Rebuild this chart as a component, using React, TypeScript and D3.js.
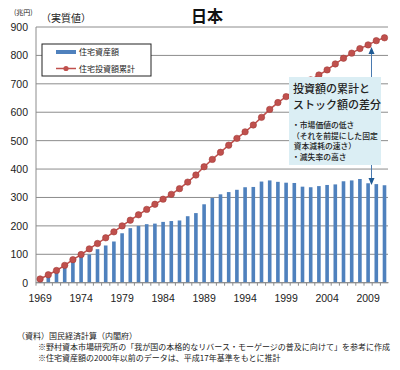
import { useMemo } from 'react'
import { scaleBand, scaleLinear, line } from 'd3'

const YEARS = Array.from({ length: 43 }, (_, i) => 1969 + i)

// 住宅資産額 (兆円)
const STOCK = [
  10, 21, 35, 56, 74, 91, 99, 118, 131, 145, 174, 192, 200, 206, 208, 214, 217, 219, 234, 245,
  276, 298, 311, 319, 327, 336, 337, 356, 360, 355, 352, 351, 338, 336, 340, 344, 346, 357, 360,
  365, 350, 347, 343,
]

// 住宅投資額累計 (兆円)
const CUMULATIVE = [
  13, 28, 43, 61, 81, 99, 119, 138, 158, 179, 200, 220, 239, 258, 276, 294, 311, 331, 354, 379,
  408, 434, 459, 484, 508, 531, 555, 582, 610, 634, 655, 676, 697, 714, 731, 749, 770, 790, 808,
  824, 837, 852, 862,
]

const Y_TICKS = [0, 100, 200, 300, 400, 500, 600, 700, 800, 900]
const X_LABELS = [1969, 1974, 1979, 1984, 1989, 1994, 1999, 2004, 2009]

const NOTE_HEAD = ['投資額の累計と', 'ストック額の差分']
const NOTE_LINES = ['・市場価値の低さ', '（それを前提にした固定', ' 資本減耗の速さ）', '・滅失率の高さ']
const FOOTNOTES = [
  '（資料）国民経済計算（内閣府）',
  '※野村資本市場研究所の「我が国の本格的なリバース・モーゲージの普及に向けて」を参考に作成',
  '※住宅資産額の2000年以前のデータは、平成17年基準をもとに推計',
]

const JP = '"Noto Sans CJK JP", sans-serif'
const NUM = '"Liberation Sans", Arial, sans-serif'
const BLUE = '#4f81bd'
const RED = '#c0504d'

export default function App() {
  const x = useMemo(
    () => scaleBand<number>().domain(YEARS).range([36, 388.6]).paddingInner(0.56).paddingOuter(0.28),
    []
  )
  const y = useMemo(() => scaleLinear().domain([0, 900]).range([282.7, 27]), [])
  const step = x.step()
  const cx = (yr: number) => (x(yr) ?? 0) + x.bandwidth() / 2
  const path =
    line<number>()
      .x((_, i) => cx(YEARS[i]))
      .y((v) => y(v))(CUMULATIVE) ?? ''

  return (
    <svg
      width={400}
      height={370}
      style={{ position: 'absolute', left: 0, top: 0, background: '#fff' }}
    >
      {/* gridlines */}
      {Y_TICKS.map((t) => (
        <g key={t}>
          <line x1={36} x2={388} y1={y(t)} y2={y(t)} stroke="#8c8c8c" strokeWidth={1} />
          <text
            x={28}
            y={y(t) + 4}
            textAnchor="end"
            fontFamily={NUM}
            fontSize={10.5}
            fill="#222"
          >
            {t}
          </text>
        </g>
      ))}
      <line x1={36} x2={36} y1={27} y2={283} stroke="#8c8c8c" />

      {/* bars */}
      {YEARS.map((yr, i) => (
        <rect
          key={yr}
          x={x(yr)}
          y={y(STOCK[i])}
          width={x.bandwidth()}
          height={y(0) - y(STOCK[i])}
          fill={BLUE}
        />
      ))}

      {/* x axis ticks */}
      {YEARS.map((yr, i) => (
        <line
          key={yr}
          x1={36 + i * step}
          x2={36 + i * step}
          y1={y(0)}
          y2={y(0) + 3}
          stroke="#8c8c8c"
        />
      ))}
      <line x1={36} x2={388.6} y1={y(0)} y2={y(0)} stroke="#8c8c8c" />
      {X_LABELS.map((yr) => (
        <text key={yr} x={cx(yr)} y={302} textAnchor="middle" fontFamily={NUM} fontSize={10.5} fill="#222">
          {yr}
        </text>
      ))}

      {/* cumulative line */}
      <path d={path} fill="none" stroke={RED} strokeWidth={1.5} />
      {YEARS.map((yr, i) => (
        <circle key={yr} cx={cx(yr)} cy={y(CUMULATIVE[i])} r={3.2} fill={RED} stroke="#a33c39" strokeWidth={0.6} />
      ))}

      {/* annotation */}
      <line x1={371.5} x2={371.5} y1={52} y2={77} stroke="#4a7ab0" strokeWidth={1} />
      <path d="M371.5,47 L368.5,54 L374.5,54 Z" fill="#1f5a94" />
      <rect x={289} y={77} width={92} height={88} fill="#dbeef4" />
      <text fontFamily={JP} fontSize={11} fontWeight={500} fill="#222">
        <tspan x={293} y={93}>{NOTE_HEAD[0]}</tspan>
        <tspan x={293} y={109}>{NOTE_HEAD[1]}</tspan>
      </text>
      <text fontFamily={JP} fontSize={7.8} fontWeight={500} fill="#222">
        {NOTE_LINES.map((s, i) => (
          <tspan key={i} x={292} y={128 + i * 10.5} style={{ whiteSpace: 'pre' }}>
            {s}
          </tspan>
        ))}
      </text>
      <line x1={371.5} x2={371.5} y1={165} y2={179} stroke="#4a7ab0" strokeWidth={1} />
      <path d="M371.5,185 L368.5,178 L374.5,178 Z" fill="#1f5a94" />

      {/* legend */}
      <rect x={42} y={44} width={109} height={32} fill="#fff" stroke="#222" strokeWidth={1} />
      <rect x={56} y={50} width={20} height={4} fill={BLUE} />
      <text x={79} y={55} fontFamily={JP} fontSize={8} fill="#222">
        住宅資産額
      </text>
      <line x1={56} x2={76} y1={68.5} y2={68.5} stroke={RED} strokeWidth={1.5} />
      <circle cx={66} cy={68.5} r={2.6} fill={RED} />
      <text x={79} y={71.5} fontFamily={JP} fontSize={8} fill="#222">
        住宅投資額累計
      </text>

      {/* titles */}
      <text x={14} y={15} fontFamily={JP} fontSize={7} fill="#222">
        (兆円)
      </text>
      <text x={41} y={22} fontFamily={JP} fontSize={10} fill="#222">
        （実質値）
      </text>
      <text x={207} y={22} textAnchor="middle" fontFamily={JP} fontSize={16} fontWeight="bold" fill="#111">
        日本
      </text>

      {/* footnotes */}
      <text x={17} y={339} fontFamily={JP} fontSize={8} fill="#222">
        {FOOTNOTES[0]}
      </text>
      <text x={38} y={350} fontFamily={JP} fontSize={8} fill="#222" textLength={352} lengthAdjust="spacingAndGlyphs">
        {FOOTNOTES[1]}
      </text>
      <text x={38} y={361} fontFamily={JP} fontSize={8} fill="#222">
        {FOOTNOTES[2]}
      </text>
    </svg>
  )
}
